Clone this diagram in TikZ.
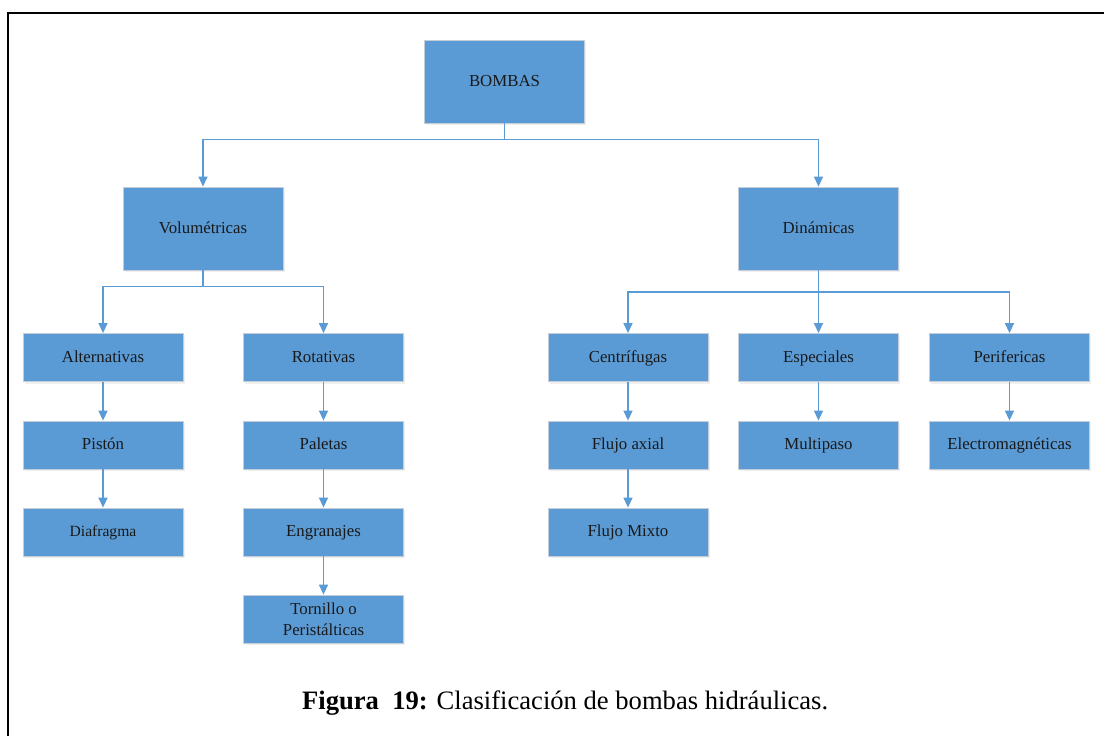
\documentclass[tikz,border=0pt]{standalone}
\usepackage{fontspec}
\setmainfont{Liberation Serif}
\usepackage{xcolor}
\usetikzlibrary{arrows.meta,positioning,shadows}
\definecolor{boxblue}{RGB}{91,155,213}
\definecolor{boxedge}{RGB}{196,205,216}

\begin{document}
\begin{tikzpicture}[x=1pt, y=-1pt,
    big/.style={rectangle, draw=boxedge, line width=0.8pt, fill=boxblue, minimum width=160pt, minimum height=83pt, inner sep=2pt, align=center, text=black!90, font=\fontsize{16.8}{20.7}\selectfont, drop shadow={shadow xshift=1.5pt, shadow yshift=-2pt, opacity=0.12}},
    small/.style={big, minimum height=48pt, text height=13.4pt, text depth=3.8pt},
    link/.style={boxblue, line width=1.4pt},
    arrow/.style={link, -{Triangle[length=10pt, width=9pt]}}
]
\useasboundingbox (0,0) rectangle (1104,736);
\begin{scope}
\clip (0,0) rectangle (1104,736);
\draw[line width=2.2pt] (8.3,760) |- (1120,12.7);
\end{scope}

\node[big, text height=13.4pt, text depth=3.4pt] (bombas) at (504.5,81.5) {BOMBAS};
\node[big, text height=13.4pt, text depth=3.8pt] (vol) at (203,228.5) {Volumétricas};
\node[big, text height=13.4pt, text depth=3.8pt] (din) at (818.5,228.5) {Dinámicas};

\node[small] (alt) at (103,357.5) {Alternativas};
\node[small] (pis) at (103,445) {Pistón};
\node[small, font=\fontsize{15.6}{18}\selectfont] (dia) at (103,532) {Diafragma};

\node[small] (rot) at (323.5,357.5) {Rotativas};
\node[small] (pal) at (323.5,445) {Paletas};
\node[small] (eng) at (323.5,532) {Engranajes};
\node[big, minimum height=48pt] (tor) at (323.5,619) {Tornillo o\\Peristálticas};

\node[small] (cen) at (628,357.5) {Centrífugas};
\node[small] (fax) at (628,445) {Flujo axial};
\node[small] (fmx) at (628,532) {Flujo Mixto};

\node[small] (esp) at (818.5,357.5) {Especiales};
\node[small] (mul) at (818.5,445) {Multipaso};

\node[small] (per) at (1009.5,357.5) {Perifericas};
\node[small] (ele) at (1009.5,445) {Electromagnéticas};

\node[anchor=base west, inner sep=0pt, font=\fontsize{26.6}{30}\selectfont] (cap) at (302,709.3) {\textbf{Figura\ \ 19:} Clasificación de bombas hidráulicas.};

% top level
\draw[link] (bombas.south) -- ++(0,16) coordinate (bj);
\draw[arrow] (bj) -| (vol.north);
\draw[arrow] (bj) -| (din.north);

% volumetricas
\draw[link] (vol.south) -- ++(0,16) coordinate (vj);
\draw[arrow] (vj) -| (alt.north);
\draw[arrow] (vj) -| (rot.north);
\draw[arrow] (alt) -- (pis);
\draw[arrow] (pis) -- (dia);
\draw[arrow] (rot) -- (pal);
\draw[arrow] (pal) -- (eng);
\draw[arrow] (eng) -- (tor);

% dinamicas
\draw[link] (din.south) -- ++(0,21.5) coordinate (dj);
\draw[arrow] (dj) -| (cen.north);
\draw[arrow] (dj) -- (esp.north);
\draw[arrow] (dj) -| (per.north);
\draw[arrow] (cen) -- (fax);
\draw[arrow] (fax) -- (fmx);
\draw[arrow] (esp) -- (mul);
\draw[arrow] (per) -- (ele);
\end{tikzpicture}
\end{document}
